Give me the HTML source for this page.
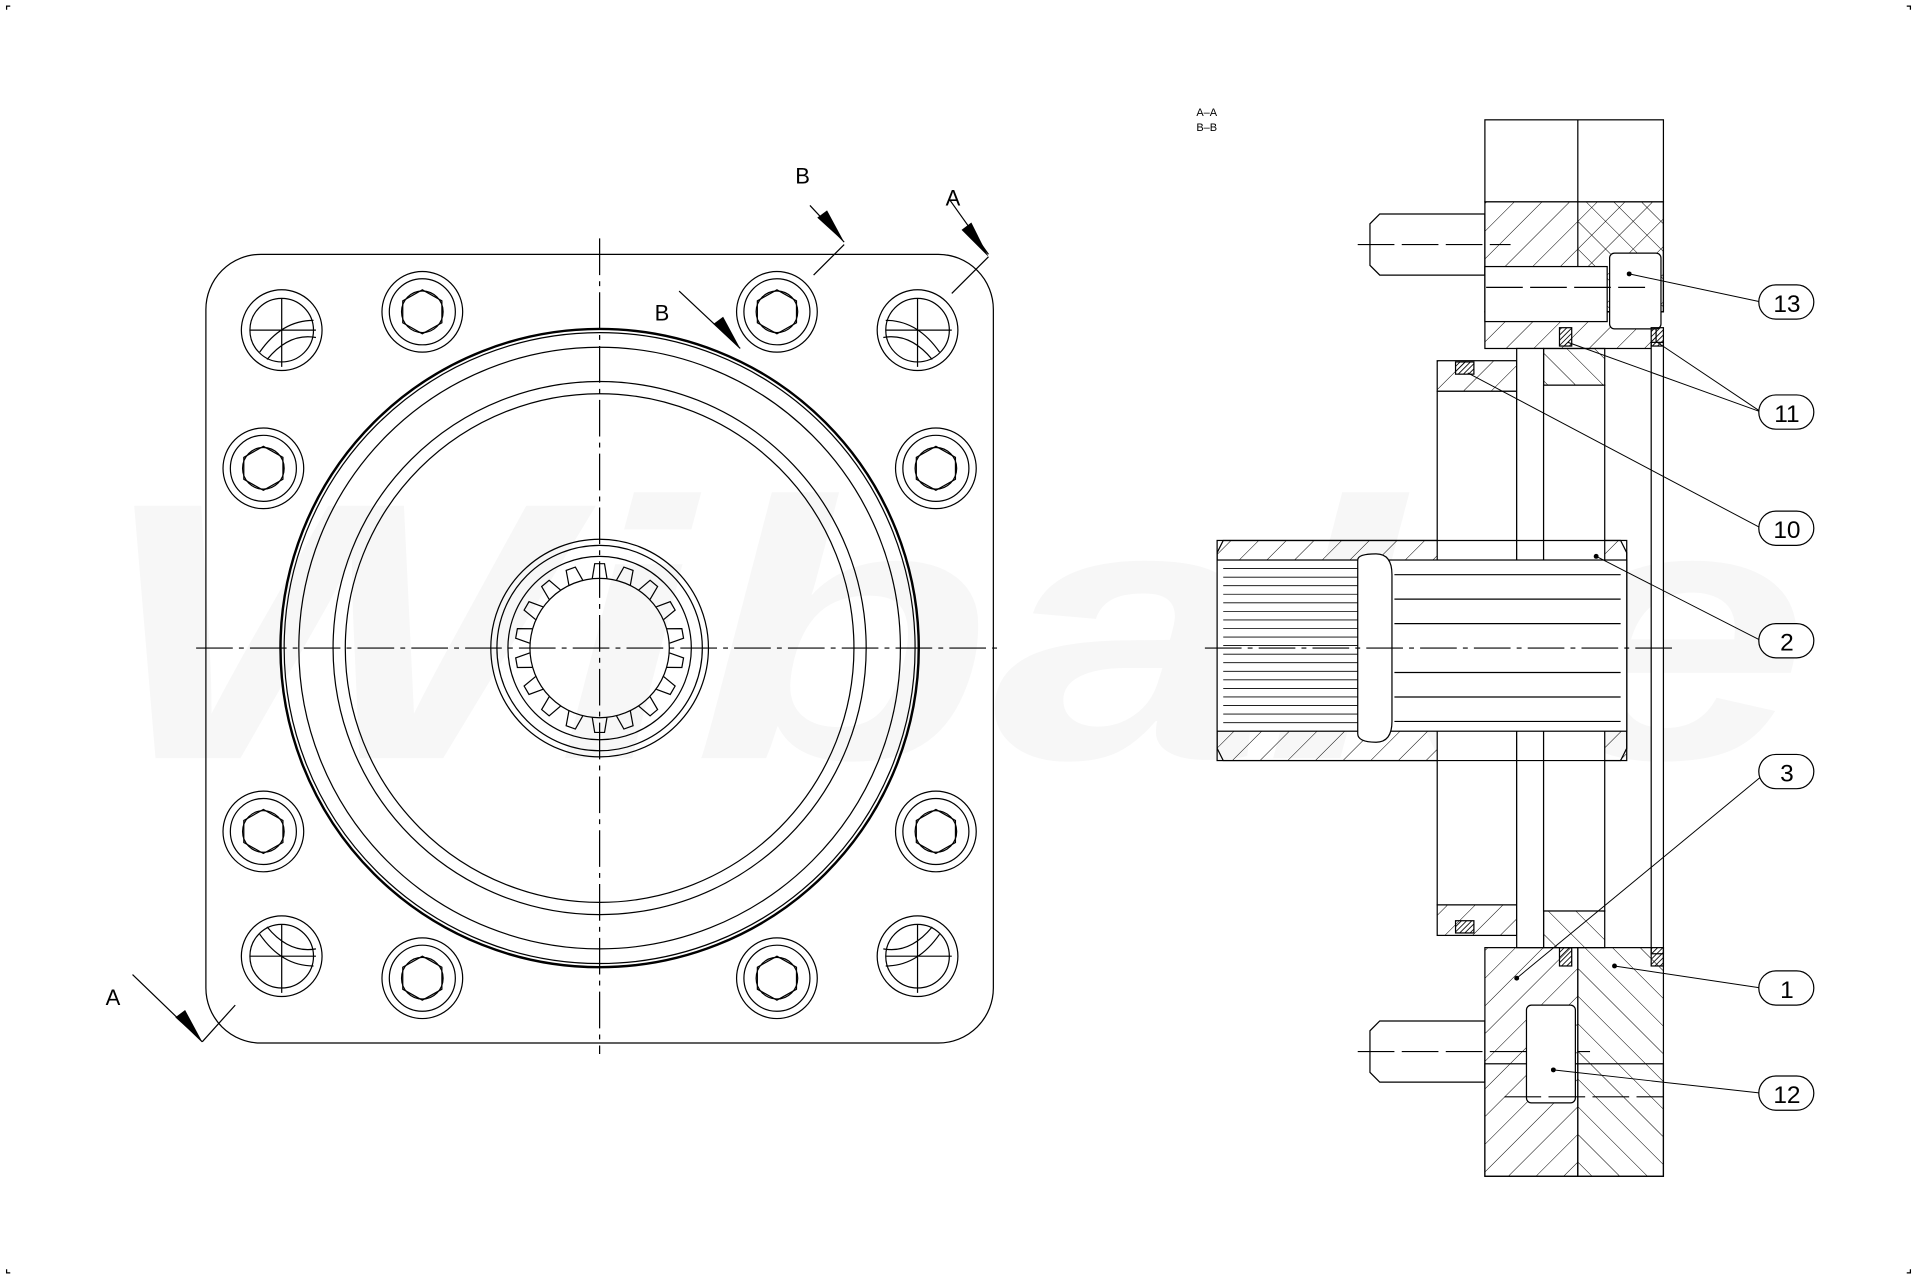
<!DOCTYPE html>
<html><head><meta charset="utf-8"><style>
html,body{margin:0;padding:0;background:#fff;}
svg{display:block}
</style></head><body>
<svg width="1917" height="1279" viewBox="0 0 1567 1046" xmlns="http://www.w3.org/2000/svg" xmlns:xlink="http://www.w3.org/1999/xlink" font-family="Liberation Sans, sans-serif">
<defs>
<pattern id="h1" width="16" height="16" patternUnits="userSpaceOnUse" patternTransform="rotate(45)"><line x1="0" y1="0" x2="0" y2="16" stroke="#000" stroke-width="0.8"/></pattern>
<pattern id="h2" width="16" height="16" patternUnits="userSpaceOnUse" patternTransform="rotate(-45)"><line x1="0" y1="0" x2="0" y2="16" stroke="#000" stroke-width="0.8"/></pattern>
<pattern id="hs" width="3" height="3" patternUnits="userSpaceOnUse" patternTransform="rotate(45)"><line x1="0" y1="0" x2="0" y2="3" stroke="#000" stroke-width="1.4"/></pattern>
<path id="tooth" d="M-6 -57 L-4 -69 L4 -69 L6 -57" fill="none" stroke="#000" stroke-width="1"/>
</defs>
<rect width="1567" height="1046" fill="#fff"/>
<!-- watermark -->
<text x="80" y="620" font-size="300" font-style="italic" font-weight="bold" fill="#f7f7f7" textLength="1400" lengthAdjust="spacingAndGlyphs">Wibake</text>
<g fill="none" stroke="#000" stroke-width="1">
<path d="M5 8 V5 H8 M1559 5 H1562 V8 M5 1038 V1041 H8 M1562 1038 V1041 H1559"/>
<rect x="168" y="208" width="644" height="645" rx="45"/>
<line x1="160" y1="530" x2="820" y2="530" stroke-dasharray="30,5,4,5"/>
<line x1="490" y1="195" x2="490" y2="862" stroke-dasharray="30,5,4,5"/>
<circle cx="490" cy="530" r="261" stroke-width="2"/>
<circle cx="490" cy="530" r="258"/>
<circle cx="490" cy="530" r="246"/>
<circle cx="490" cy="530" r="218"/>
<circle cx="490" cy="530" r="208"/>
<circle cx="490" cy="530" r="89"/>
<circle cx="490" cy="530" r="84"/>
<circle cx="490" cy="530" r="75"/>
<circle cx="490" cy="530" r="57"/>
</g>
<g transform="translate(490,530)">
<use xlink:href="#tooth" transform="rotate(0)"/><use xlink:href="#tooth" transform="rotate(20)"/><use xlink:href="#tooth" transform="rotate(40)"/><use xlink:href="#tooth" transform="rotate(60)"/><use xlink:href="#tooth" transform="rotate(80)"/><use xlink:href="#tooth" transform="rotate(100)"/><use xlink:href="#tooth" transform="rotate(120)"/><use xlink:href="#tooth" transform="rotate(140)"/><use xlink:href="#tooth" transform="rotate(160)"/><use xlink:href="#tooth" transform="rotate(180)"/><use xlink:href="#tooth" transform="rotate(200)"/><use xlink:href="#tooth" transform="rotate(220)"/><use xlink:href="#tooth" transform="rotate(240)"/><use xlink:href="#tooth" transform="rotate(260)"/><use xlink:href="#tooth" transform="rotate(280)"/><use xlink:href="#tooth" transform="rotate(300)"/><use xlink:href="#tooth" transform="rotate(320)"/><use xlink:href="#tooth" transform="rotate(340)"/>
</g>
<g fill="none" stroke="#000" stroke-width="1">
<circle cx="230" cy="270" r="33"/><circle cx="230" cy="270" r="26"/><path d="M230 244 V300 M204 270 H258 M212 288 Q230 262 256 262 M218 294 Q236 272 258 276"/>
<circle cx="750" cy="270" r="33"/><circle cx="750" cy="270" r="26"/><path d="M750 244 V300 M724 270 H778 M724 262 Q750 262 768 288 M722 276 Q744 272 762 294"/>
<circle cx="230" cy="782" r="33"/><circle cx="230" cy="782" r="26"/><path d="M230 756 V812 M204 782 H258 M212 764 Q230 790 256 790 M218 758 Q236 780 258 776"/>
<circle cx="750" cy="782" r="33"/><circle cx="750" cy="782" r="26"/><path d="M750 756 V812 M724 782 H778 M724 790 Q750 790 768 764 M722 776 Q744 780 762 758"/>
<circle cx="345" cy="255" r="33"/><circle cx="345" cy="255" r="27"/><circle cx="345" cy="255" r="17"/><polygon points="345,237 361,246 361,264 345,273 329,264 329,246"/>
<circle cx="635" cy="255" r="33"/><circle cx="635" cy="255" r="27"/><circle cx="635" cy="255" r="17"/><polygon points="635,237 651,246 651,264 635,273 619,264 619,246"/>
<circle cx="215" cy="383" r="33"/><circle cx="215" cy="383" r="27"/><circle cx="215" cy="383" r="17"/><polygon points="215,365 231,374 231,392 215,401 199,392 199,374"/>
<circle cx="765" cy="383" r="33"/><circle cx="765" cy="383" r="27"/><circle cx="765" cy="383" r="17"/><polygon points="765,365 781,374 781,392 765,401 749,392 749,374"/>
<circle cx="215" cy="680" r="33"/><circle cx="215" cy="680" r="27"/><circle cx="215" cy="680" r="17"/><polygon points="215,662 231,671 231,689 215,698 199,689 199,671"/>
<circle cx="765" cy="680" r="33"/><circle cx="765" cy="680" r="27"/><circle cx="765" cy="680" r="17"/><polygon points="765,662 781,671 781,689 765,698 749,689 749,671"/>
<circle cx="345" cy="800" r="33"/><circle cx="345" cy="800" r="27"/><circle cx="345" cy="800" r="17"/><polygon points="345,782 361,791 361,809 345,818 329,809 329,791"/>
<circle cx="635" cy="800" r="33"/><circle cx="635" cy="800" r="27"/><circle cx="635" cy="800" r="17"/><polygon points="635,782 651,791 651,809 635,818 619,809 619,791"/>
<path d="M665 225 L690 200 M662 168 L690 198 M778 240 L808 210 M776 163 L808 208 M555 238 L605 285 M108 797 L165 852 M165 852 L192 822"/>
</g>
<g fill="#000">
<polygon points="690,198 668,178 676,172"/>
<polygon points="808,210 786,188 794,182"/>
<polygon points="605,285 583,265 591,259"/>
<polygon points="165,852 143,832 151,826"/>
</g>
<g font-size="18" fill="#000">
<text x="650" y="150">B</text><text x="773" y="168">A</text><text x="535" y="262">B</text><text x="86" y="822">A</text>
</g>
<text x="978" y="95" font-size="9">A–A</text><text x="978" y="107" font-size="9">B–B</text>
<g stroke="#000" stroke-width="1">
<rect x="1214" y="165" width="146" height="90" fill="url(#h1)"/>
<rect x="1290" y="165" width="70" height="90" fill="url(#h2)"/>
<rect x="1214" y="255" width="140" height="30" fill="url(#h1)"/>
<rect x="1262" y="285" width="50" height="30" fill="url(#h2)"/>
<rect x="1175" y="295" width="65" height="25" fill="url(#h1)"/>
<rect x="1175" y="740" width="65" height="25" fill="url(#h1)"/>
<rect x="1262" y="745" width="50" height="30" fill="url(#h2)"/>
<rect x="1214" y="775" width="76" height="187" fill="url(#h1)"/>
<rect x="1290" y="775" width="70" height="187" fill="url(#h2)"/>
<rect x="995" y="442" width="335" height="180" fill="url(#h1)"/>
</g>
<g fill="none" stroke="#000" stroke-width="1">
<rect x="1214" y="98" width="146" height="67" fill="#fff"/>
<line x1="1290" y1="98" x2="1290" y2="165"/>
<rect x="1214" y="870" width="146" height="92" fill="none"/>
<line x1="1290" y1="930" x2="1290" y2="962"/>
<rect x="1175" y="320" width="65" height="420" fill="#fff"/>
<rect x="1240" y="285" width="22" height="490" fill="#fff"/>
<rect x="1262" y="315" width="50" height="430" fill="#fff"/>
<rect x="1350" y="280" width="10" height="500" fill="#fff"/>
<path d="M1000 442 H1325 L1330 452 V612 L1325 622 H1000 L995 612 V452 Z"/>
<rect x="995" y="458" width="335" height="140" fill="#fff"/>
<g stroke-width="0.7">
<path d="M1000 465 H1110 M1000 472 H1110 M1000 479 H1110 M1000 486 H1110 M1000 493 H1110 M1000 500 H1110 M1000 507 H1110 M1000 514 H1110 M1000 521 H1110 M1000 528 H1110 M1000 535 H1110 M1000 542 H1110 M1000 549 H1110 M1000 556 H1110 M1000 563 H1110 M1000 570 H1110 M1000 577 H1110 M1000 584 H1110 M1000 591 H1110"/>
</g>
<path d="M1110 458 Q1110 453 1125 453 Q1138 453 1138 470 V590 Q1138 607 1125 607 Q1110 607 1110 600 Z" fill="#fff"/>
<path d="M1140 470 H1325 M1140 490 H1325 M1140 510 H1325 M1140 550 H1325 M1140 570 H1325 M1140 590 H1325"/>
<line x1="985" y1="530" x2="1370" y2="530" stroke-dasharray="30,5,4,5"/>
<path d="M1128 175 H1214 V225 H1128 L1120 217 V183 Z"/>
<line x1="1110" y1="200" x2="1235" y2="200" stroke-dasharray="30,6"/>
<rect x="1214" y="218" width="100" height="45" fill="#fff"/>
<rect x="1316" y="207" width="42" height="62" rx="4" fill="#fff"/>
<line x1="1215" y1="235" x2="1345" y2="235" stroke-dasharray="30,6"/>
<path d="M1128 835 H1214 V885 H1128 L1120 877 V843 Z"/>
<line x1="1110" y1="860" x2="1300" y2="860" stroke-dasharray="30,6"/>
<rect x="1248" y="822" width="40" height="80" rx="4" fill="#fff"/>
<line x1="1230" y1="897" x2="1360" y2="897" stroke-dasharray="30,6"/>
</g>
<g fill="url(#hs)" stroke="#000" stroke-width="1">
<rect x="1275" y="268" width="10" height="15"/><rect x="1350" y="268" width="10" height="15"/>
<rect x="1190" y="296" width="15" height="10"/><rect x="1190" y="753" width="15" height="10"/>
<rect x="1275" y="775" width="10" height="15"/><rect x="1350" y="775" width="10" height="15"/>
</g>
<g fill="none" stroke="#000" stroke-width="0.8">
<path d="M1332 224 L1440 247 M1282 280 L1440 337 M1355 280 L1440 337 M1200 305 L1440 432 M1305 455 L1440 524 M1240 800 L1445 631 M1320 790 L1440 808 M1270 875 L1440 894"/>
</g>
<g fill="#000"><circle cx="1332" cy="224" r="2"/><circle cx="1305" cy="455" r="2"/><circle cx="1240" cy="800" r="2"/><circle cx="1320" cy="790" r="2"/><circle cx="1270" cy="875" r="2"/></g>
<g fill="#fff" stroke="#000" stroke-width="1">
<rect x="1438" y="233" width="45" height="28" rx="14"/>
<rect x="1438" y="323" width="45" height="28" rx="14"/>
<rect x="1438" y="418" width="45" height="28" rx="14"/>
<rect x="1438" y="510" width="45" height="28" rx="14"/>
<rect x="1438" y="617" width="45" height="28" rx="14"/>
<rect x="1438" y="794" width="45" height="28" rx="14"/>
<rect x="1438" y="880" width="45" height="28" rx="14"/>
</g>
<g font-size="20" fill="#000" text-anchor="middle">
<text x="1461" y="255">13</text><text x="1461" y="345">11</text><text x="1461" y="440">10</text><text x="1461" y="532">2</text><text x="1461" y="639">3</text><text x="1461" y="816">1</text><text x="1461" y="902">12</text>
</g>
</svg>
</body></html>
